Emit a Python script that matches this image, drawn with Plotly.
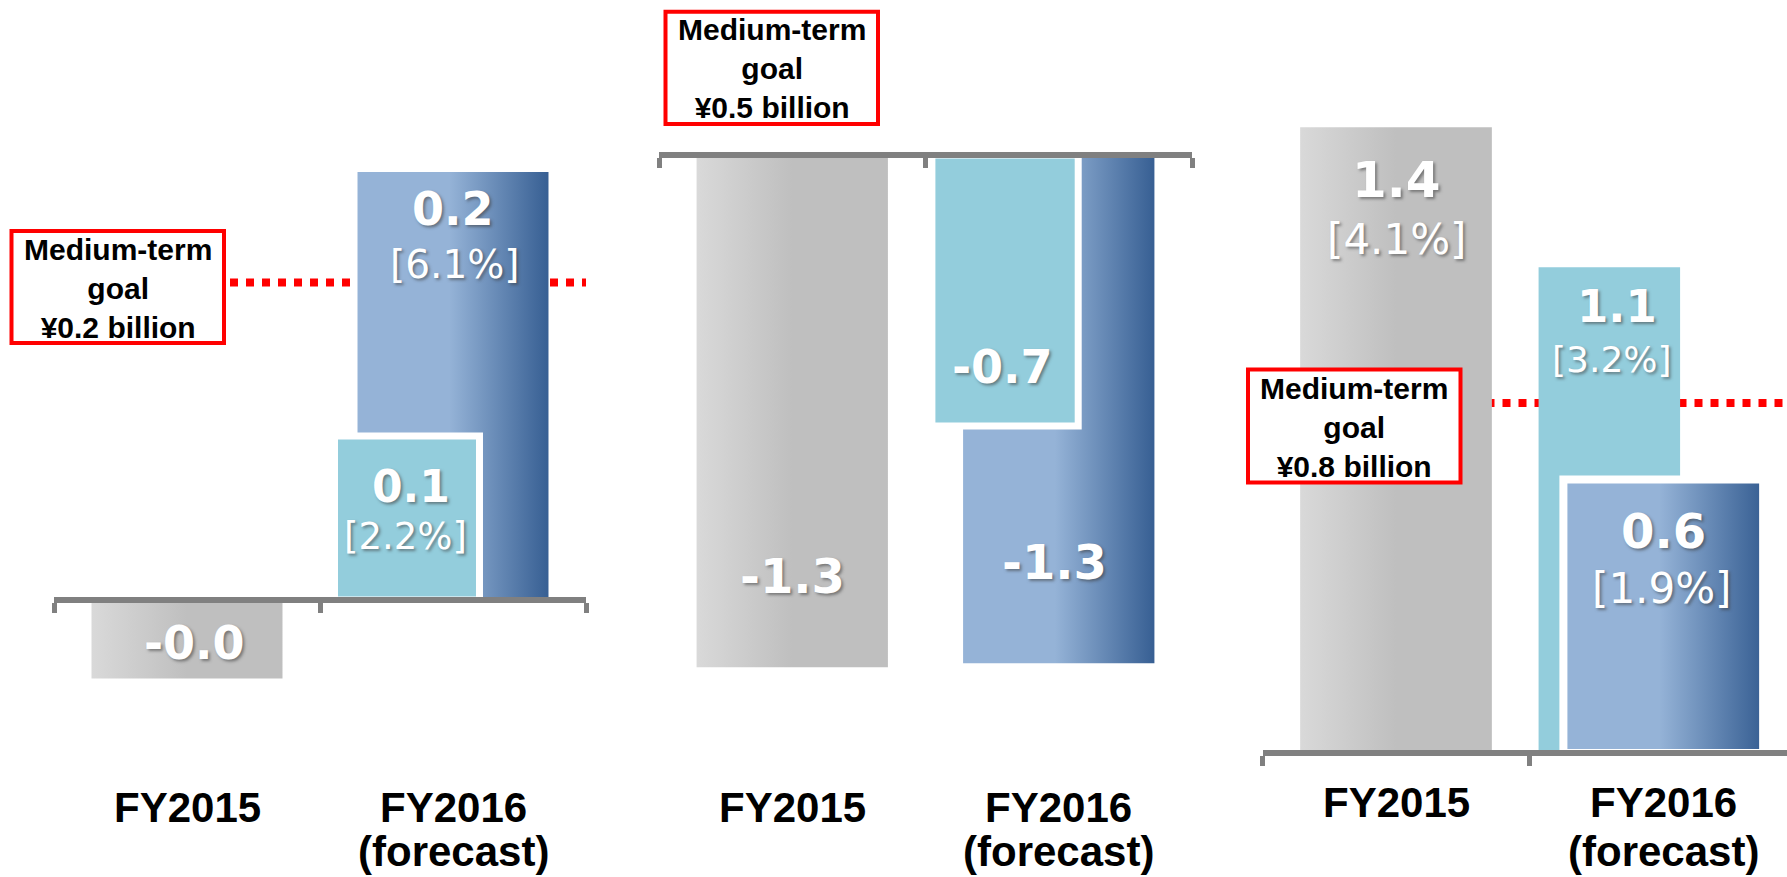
import plotly.graph_objects as go

# ---------------- data (¥ billion, bar heights as drawn in the picture) ----------------
categories = ["FY2015", "FY2016<br>(forecast)"]

fy2015_values = [-0.044, -1.30, 1.43]      # grey bars
fy2016_values = [0.24, -1.29, 0.625]       # dark blue bars
fy2016_sub_values = [0.092, -0.688, 1.11]  # light blue bars
goal_values = [0.178, 0.5, 0.8]            # dotted goal line (as drawn)
goal_texts = ["¥0.2 billion", "¥0.5 billion", "¥0.8 billion"]

fy2015_labels = ["-0.0", "-1.3", "1.4"]
fy2015_margins = ["", "", "[4.1%]"]
fy2016_labels = ["0.2", "-1.3", "0.6"]
fy2016_margins = ["[6.1%]", "", "[1.9%]"]
fy2016_sub_labels = ["0.1", "-0.7", "1.1"]
fy2016_sub_margins = ["[2.2%]", "", "[3.2%]"]

# ---------------- layout settings ----------------
W, H = 1787, 877
AX = ["", "2", "3"]
x_domains_px = [(54, 586), (659, 1192), (1262.5, 1787)]
x_ranges = [[-0.5, 1.5], [-0.5, 1.5], [-0.5, 1.4644]]
y_ranges = [[-0.1554, 0.3365], [-1.8325, 0.3934], [-0.2834, 1.7211]]

GREY_GRAD = [[0, "#d9d9d9"], [0.5, "#bfbfbf"], [1, "#bfbfbf"]]
BLUE_GRAD = [[0, "#95b3d7"], [0.48, "#95b3d7"], [1, "#375f93"]]
LIGHT = "#93cddc"
AXIS_GREY = "#808080"

grey_span = (-0.359, 0.359)
dark_span = [(-0.359, 0.359), (-0.359, 0.359), (-0.373, 0.375)]
sub_span = [(-0.4455, 0.0996), (-0.476, 0.073), (-0.466, 0.064)]
sub_in_front = [True, True, False]

# label placement: (xshift, yshift from bar end, font size)
grey_lbl = [(7, 35, 46), (0, 91, 48), (0, -53, 50)]
grey_pct = [None, None, (0, -112, 42)]
dark_lbl = [(0, -37, 46), (-4, 101, 48), (0, -51, 48)]
dark_pct = [(2, -92, 39), None, (-2, -109, 42)]
sub_lbl = [(4, -51, 44), (-3, 59, 46), (8, -39, 45)]
sub_pct = [(-2, -101, 37), None, (3, -92, 36)]

goal_boxes_px = [(11.5, 231, 224, 343), (665.5, 11.8, 878, 124), (1248, 369.6, 1460.5, 482.5)]
cat_label_top_px = [782, 782, 777]

SHADOW = "2px 2px 3px rgba(60,60,60,0.55)"
CAT_FONT = dict(family="Liberation Sans, Arial", size=42, color="black", weight="bold")


def bar(xc, span, value, ax, grad=None, color=None, outline=0):
    x0, x1 = xc + span[0], xc + span[1]
    t = dict(x=[x0, x1, x1, x0, x0], y=[0, 0, value, value, 0], fill="toself",
             mode="lines" if outline else "none",
             line=dict(color="white", width=outline),
             xaxis="x" + ax, yaxis="y" + ax, hoverinfo="skip", showlegend=False)
    if grad:
        t["fillgradient"] = dict(type="horizontal", colorscale=grad)
    else:
        t["fillcolor"] = color
    return go.Scatter(**t)


fig = go.Figure()
annotations = []
shapes = []

for i in range(3):
    ax = AX[i]
    # goal line (behind the bars)
    fig.add_trace(go.Scatter(x=x_ranges[i], y=[goal_values[i]] * 2, mode="lines",
                             line=dict(color="#ff0000", width=8, dash="dot"),
                             xaxis="x" + ax, yaxis="y" + ax, hoverinfo="skip", showlegend=False))
    fig.add_trace(bar(0, grey_span, fy2015_values[i], ax, grad=GREY_GRAD))
    dark = bar(1, dark_span[i], fy2016_values[i], ax, grad=BLUE_GRAD,
               outline=0 if sub_in_front[i] else 8)
    sub = bar(1, sub_span[i], fy2016_sub_values[i], ax, color=LIGHT,
              outline=7 if sub_in_front[i] else 0)
    if sub_in_front[i]:
        fig.add_trace(dark)
        fig.add_trace(sub)
    else:
        fig.add_trace(sub)
        fig.add_trace(dark)

    # value labels
    sub_center = 1 + (sub_span[i][0] + sub_span[i][1]) / 2
    items = [
        (0, fy2015_values[i], fy2015_labels[i], grey_lbl[i], True),
        (0, fy2015_values[i], fy2015_margins[i], grey_pct[i], False),
        (1, fy2016_values[i], fy2016_labels[i], dark_lbl[i], True),
        (1, fy2016_values[i], fy2016_margins[i], dark_pct[i], False),
        (sub_center, fy2016_sub_values[i], fy2016_sub_labels[i], sub_lbl[i], True),
        (sub_center, fy2016_sub_values[i], fy2016_sub_margins[i], sub_pct[i], False),
    ]
    for xv, yv, txt, pos, bold in items:
        if not txt or pos is None:
            continue
        annotations.append(dict(
            x=xv, y=yv, xref="x" + ax, yref="y" + ax, text=txt, showarrow=False,
            xanchor="center", yanchor="middle", xshift=pos[0], yshift=pos[1],
            font=dict(family="DejaVu Sans", size=pos[2], color="white",
                      weight="bold" if bold else "normal", shadow=SHADOW)))

    # category labels (second line sits on the bottom edge)
    for c, cat in enumerate(categories):
        lines = cat.split("<br>")
        annotations.append(dict(
            x=c, y=1 - cat_label_top_px[i] / H, xref="x" + ax, yref="paper", text=lines[0],
            showarrow=False, xanchor="center", yanchor="top", font=CAT_FONT))
        if len(lines) > 1:
            annotations.append(dict(
                x=c, y=0, xref="x" + ax, yref="paper", text=lines[1],
                showarrow=False, xanchor="center", yanchor="bottom", font=CAT_FONT))

    # goal box
    bx0, by0, bx1, by1 = goal_boxes_px[i]
    shapes.append(dict(type="rect", xref="paper", yref="paper",
                       x0=bx0 / W, x1=bx1 / W, y0=1 - by0 / H, y1=1 - by1 / H,
                       line=dict(color="#ff0000", width=4), fillcolor="white", layer="above"))
    annotations.append(dict(
        x=(bx0 + bx1) / 2 / W, y=1 - ((by0 + by1) / 2 + 1) / H, xref="paper", yref="paper",
        text="Medium-term<br>goal<br>" + goal_texts[i], showarrow=False,
        xanchor="center", yanchor="middle",
        font=dict(family="Liberation Sans, Arial", size=30, color="black", weight="bold")))

layout = dict(width=W, height=H, margin=dict(l=0, r=0, t=0, b=0),
              paper_bgcolor="white", plot_bgcolor="rgba(0,0,0,0)",
              annotations=annotations, shapes=shapes, showlegend=False)
for i in range(3):
    ax = AX[i]
    y0, y1 = y_ranges[i]
    zero_pos = (0 - y0) / (y1 - y0)
    layout["xaxis" + ax] = dict(
        domain=[x_domains_px[i][0] / W, x_domains_px[i][1] / W], range=x_ranges[i],
        anchor="free", position=zero_pos, showline=True, linecolor=AXIS_GREY, linewidth=6,
        tickmode="array", tickvals=[-0.5, 0.5, 1.5], ticks="outside", ticklen=10,
        tickwidth=5, tickcolor=AXIS_GREY, showticklabels=False, showgrid=False,
        zeroline=False, fixedrange=True)
    layout["yaxis" + ax] = dict(domain=[0, 1], range=[y0, y1], visible=False,
                                anchor="x" + ax, fixedrange=True)

fig.update_layout(**layout)
fig.write_html("out.html", config={"displayModeBar": False},
               post_script="document.body.style.margin='0';document.body.style.overflow='hidden';")
